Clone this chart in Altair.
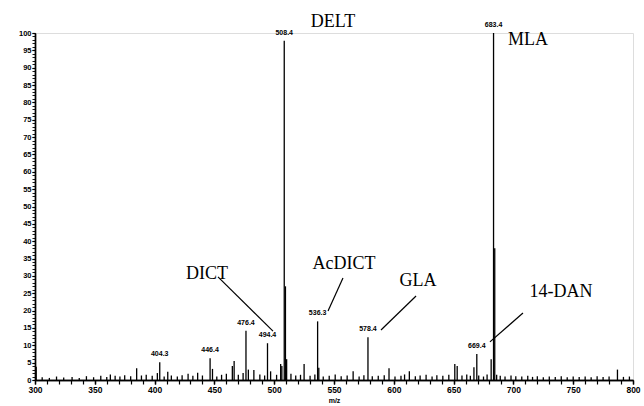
import altair as alt
import pandas as pd

# Peak list of the spectrum: m/z and relative intensity (%)
peak_mz = [
    301.0, 306.0, 312.0, 318.0, 324.0, 331.0, 337.0, 343.0, 349.0, 355.0,
    360.0, 363.0, 367.0, 371.0, 375.0, 380.0, 385.0, 389.0, 393.0, 398.0,
    402.3, 404.3, 408.0, 411.0, 414.0, 419.0, 423.0, 428.0, 432.0, 436.0,
    440.0, 446.4, 448.4, 452.0, 456.0, 460.0, 465.0, 466.5, 470.0, 474.0,
    476.4, 478.4, 483.0, 488.0, 492.0, 494.4, 497.0, 502.0, 505.4, 506.4,
    508.4, 509.4, 510.4, 514.0, 518.0, 522.0, 525.0, 530.0, 534.0, 536.3,
    537.3, 541.0, 546.0, 551.0, 556.0, 561.0, 566.0, 571.0, 575.0, 578.4,
    582.0, 587.0, 592.0, 596.0, 601.0, 606.0, 609.0, 613.0, 618.0, 622.0,
    627.0, 632.0, 636.0, 641.0, 646.0, 651.0, 653.0, 657.0, 661.0, 664.0,
    667.0, 669.4, 671.0, 675.0, 678.0, 681.4, 683.4, 684.4, 686.0, 689.0,
    693.0, 698.0, 702.0, 707.0, 712.0, 716.0, 720.0, 725.0, 730.0, 735.0,
    740.0, 745.0, 750.0, 755.0, 760.0, 765.0, 770.0, 775.0, 780.0, 787.0,
    792.0, 797.0,
]
peak_int = [
    3.8, 0.8, 0.6, 1.0, 0.7, 0.9, 0.6, 1.1, 0.8, 1.2,
    0.9, 1.6, 1.2, 1.0, 1.4, 1.1, 3.4, 1.3, 1.5, 1.2,
    2.0, 5.1, 1.0, 2.4, 1.3, 1.0, 1.4, 1.8, 1.2, 2.1,
    1.3, 6.3, 3.2, 1.0, 1.5, 1.8, 4.0, 5.5, 1.5, 2.0,
    14.2, 3.0, 2.9, 1.6, 1.3, 10.6, 2.5, 1.5, 4.6, 4.0,
    97.8, 27.0, 6.0, 1.8, 1.3, 1.5, 4.6, 1.2, 1.6, 16.9,
    3.5, 1.0, 1.2, 1.6, 1.1, 1.3, 2.5, 1.0, 1.4, 12.3,
    1.1, 1.2, 1.4, 3.4, 1.0, 1.2, 1.6, 2.5, 1.1, 1.3,
    1.5, 1.0, 1.4, 1.2, 1.5, 4.6, 4.0, 1.3, 1.6, 1.2,
    3.7, 7.5, 1.3, 1.0, 1.6, 6.0, 100.0, 38.0, 1.5, 1.2,
    1.0, 1.3, 1.1, 1.0, 1.2, 0.9, 1.1, 0.8, 1.0, 0.9,
    1.1, 0.8, 1.0, 0.9, 1.0, 0.8, 1.1, 0.9, 1.0, 3.0,
    0.9, 1.0,
]

# Peaks carrying an m/z label
label_mz = [404.3, 446.4, 476.4, 494.4, 508.4, 536.3, 578.4, 669.4, 683.4]
label_int = [5.1, 6.3, 14.2, 10.6, 97.8, 16.9, 12.3, 7.5, 100.0]
label_txt = ["404.3", "446.4", "476.4", "494.4", "508.4", "536.3", "578.4", "669.4", "683.4"]

# Compound names and their positions (m/z, intensity)
name_txt = ["DELT", "MLA", "DICT", "AcDICT", "GLA", "14-DAN"]
name_mz = [549.2, 712.2, 443.8, 558.4, 620.2, 739.8]
name_int = [101.7, 96.5, 29.1, 32.0, 27.1, 23.9]

# Leader lines from names to peaks
lead_mz1 = [453.0, 557.5, 618.6, 708.0]
lead_int1 = [29.7, 29.4, 24.2, 19.3]
lead_mz2 = [499.0, 545.0, 589.3, 680.4]
lead_int2 = [14.1, 19.9, 14.4, 11.0]

# Axis tick positions
x_minor = list(range(300, 801, 10))
x_major = list(range(300, 801, 50))
y_minor = list(range(0, 101))
y_major = list(range(0, 101, 5))

peaks = pd.DataFrame({"mz": peak_mz, "inten": peak_int})
labels = pd.DataFrame({"mz": label_mz, "inten": label_int, "txt": label_txt})
names = pd.DataFrame({"mz": name_mz, "inten": name_int, "txt": name_txt})
leads = pd.DataFrame({"mz": lead_mz1, "inten": lead_int1, "mz2": lead_mz2, "inten2": lead_int2})

xscale = alt.Scale(domain=[300, 800], nice=False, zero=False)
yscale = alt.Scale(domain=[0, 100], nice=False)

common = dict(domainColor="black", tickColor="black", domainWidth=1.4,
              labelColor="black", grid=False)

# Minor tick axes (no labels)
x_minor_axis = alt.Axis(values=x_minor, labels=False, title=None, orient="bottom",
                        tickSize=4, tickWidth=1.2, **common)
y_minor_axis = alt.Axis(values=y_minor, labels=False, title=None, orient="left",
                        tickSize=3, tickWidth=0.9, **common)

# Labelled axes
x_major_axis = alt.Axis(
    values=x_major, orient="bottom", labelOverlap=False, labelFlush=False,
    title="m/z", titleFontSize=7, titleFontWeight="bold", titlePadding=3,
    titleFont="Liberation Sans", titleColor="black",
    labelFont="Liberation Sans", labelFontSize=8.5, labelFontWeight="bold",
    labelPadding=1, tickSize=4, tickWidth=1.4, **common,
)
y_major_axis = alt.Axis(
    values=y_major, orient="left", labelOverlap=False, labelFlush=False, title=None,
    labelFont="Liberation Sans", labelFontSize=7.5, labelFontWeight="bold",
    labelPadding=1, tickSize=3, tickWidth=1.2, **common,
)

sticks = alt.Chart(peaks).mark_rule(color="black", strokeWidth=1.3).encode(
    x=alt.X("mz:Q", scale=xscale, axis=x_minor_axis),
    y=alt.Y("inten:Q", scale=yscale, axis=y_minor_axis),
    y2=alt.datum(0),
)

peak_labels = alt.Chart(labels).mark_text(
    font="Liberation Sans", fontSize=7, fontWeight="bold", dy=-6,
    baseline="alphabetic", align="center", color="black",
).encode(
    x=alt.X("mz:Q", scale=xscale, axis=x_major_axis),
    y=alt.Y("inten:Q", scale=yscale, axis=y_major_axis),
    text="txt:N",
)

name_labels = alt.Chart(names).mark_text(
    font="Liberation Serif", fontSize=18, baseline="alphabetic",
    align="center", color="black", clip=False,
).encode(x=alt.X("mz:Q", scale=xscale, axis=None),
         y=alt.Y("inten:Q", scale=yscale, axis=None), text="txt:N")

leader = alt.Chart(leads).mark_rule(color="black", strokeWidth=1.2).encode(
    x=alt.X("mz:Q", scale=xscale, axis=None), y=alt.Y("inten:Q", scale=yscale, axis=None),
    x2="mz2:Q", y2="inten2:Q",
)

chart = alt.layer(sticks, peak_labels, leader, name_labels).resolve_axis(
    x="independent", y="independent"
).properties(
    width=598, height=347,
    padding={"left": 35, "top": 33, "right": 11, "bottom": 26},
    autosize=alt.AutoSizeParams(type="none"),
).configure_view(stroke=None).configure(background="white")

chart.save("out.html", embed_options={"renderer": "svg", "actions": False})
